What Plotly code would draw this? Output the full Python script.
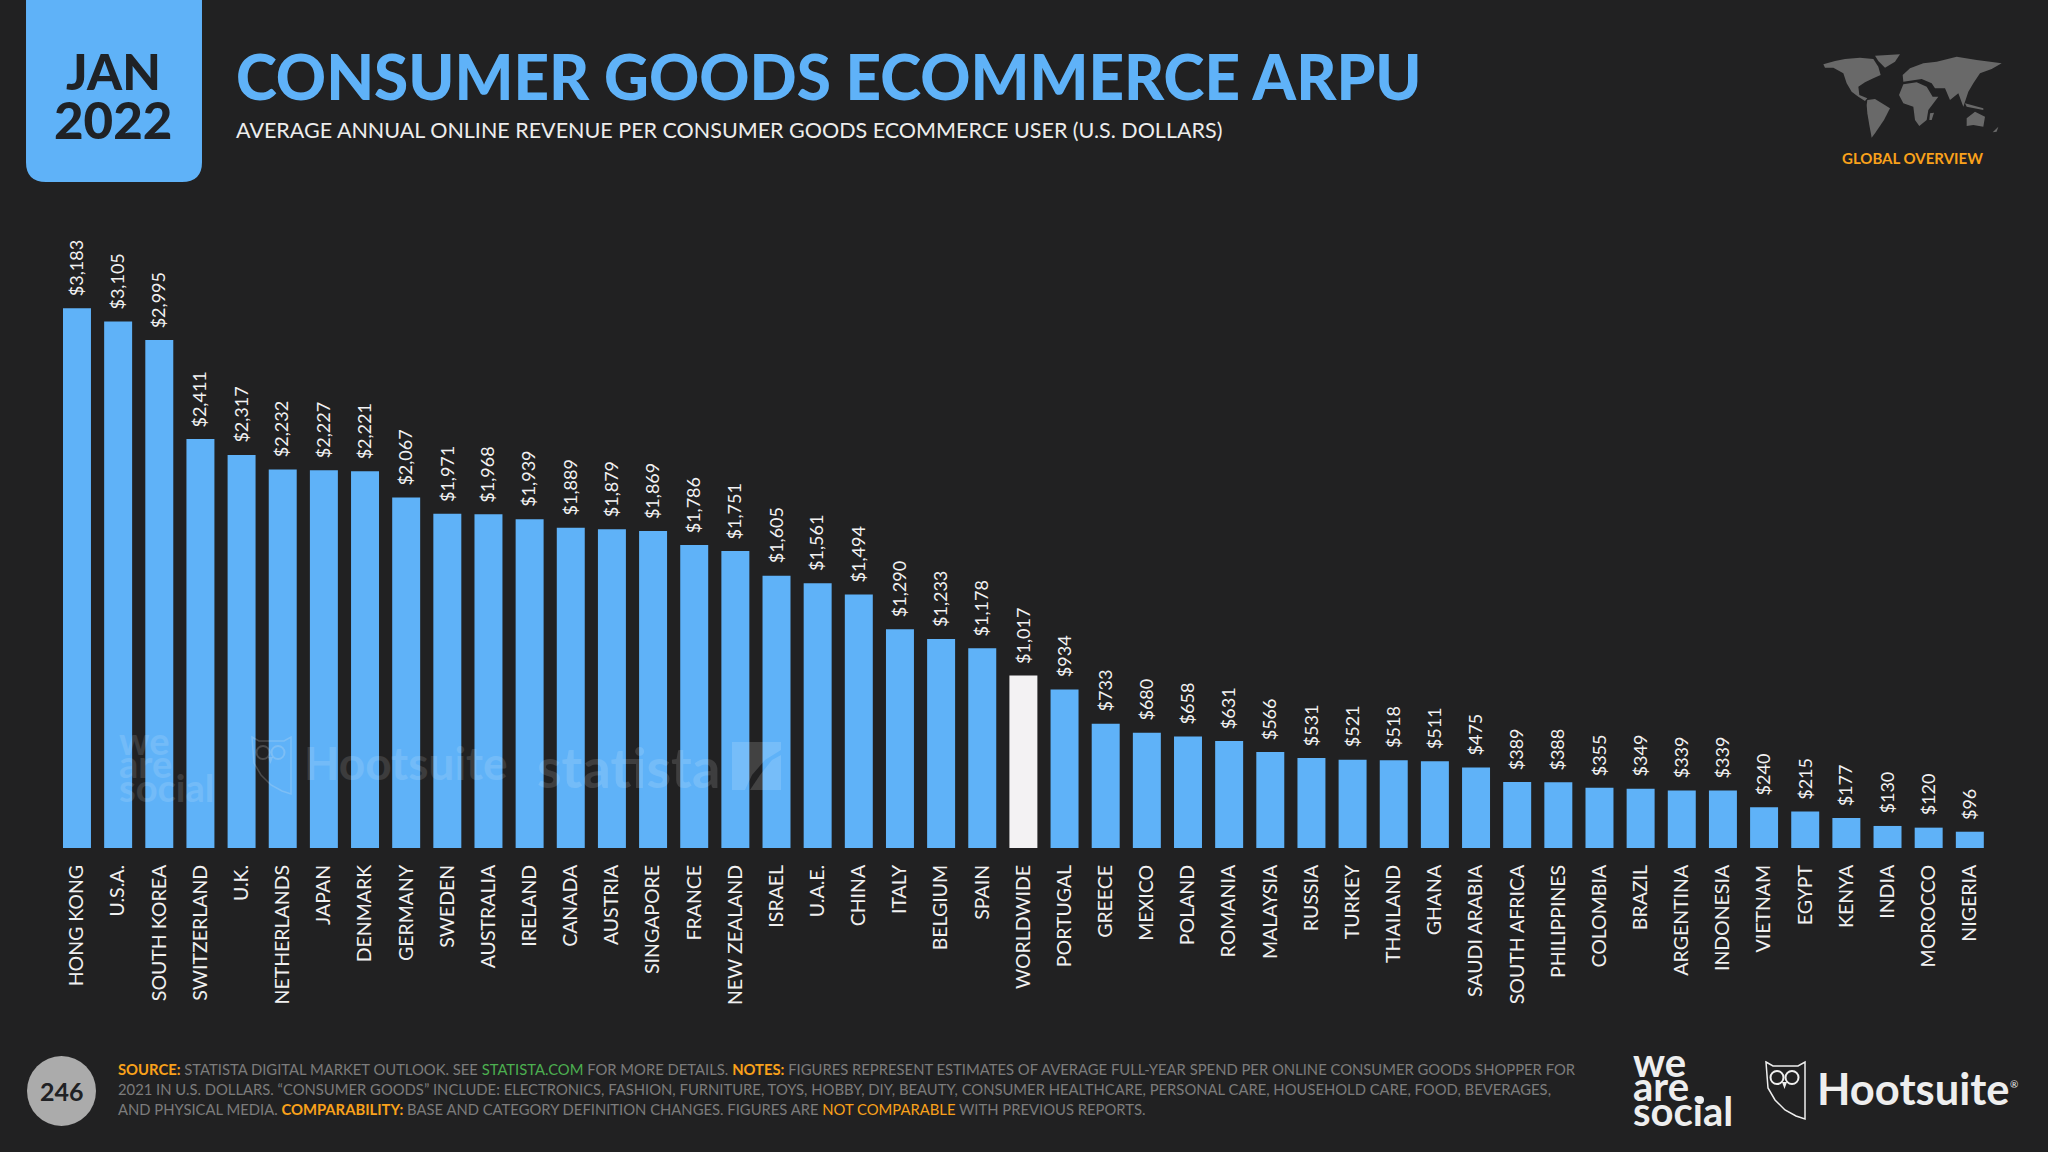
import plotly.graph_objects as go

countries = ["HONG KONG", "U.S.A.", "SOUTH KOREA", "SWITZERLAND", "U.K.", "NETHERLANDS", "JAPAN", "DENMARK",
             "GERMANY", "SWEDEN", "AUSTRALIA", "IRELAND", "CANADA", "AUSTRIA", "SINGAPORE", "FRANCE",
             "NEW ZEALAND", "ISRAEL", "U.A.E.", "CHINA", "ITALY", "BELGIUM", "SPAIN", "WORLDWIDE",
             "PORTUGAL", "GREECE", "MEXICO", "POLAND", "ROMANIA", "MALAYSIA", "RUSSIA", "TURKEY",
             "THAILAND", "GHANA", "SAUDI ARABIA", "SOUTH AFRICA", "PHILIPPINES", "COLOMBIA", "BRAZIL",
             "ARGENTINA", "INDONESIA", "VIETNAM", "EGYPT", "KENYA", "INDIA", "MOROCCO", "NIGERIA"]
arpu = [3183, 3105, 2995, 2411, 2317, 2232, 2227, 2221, 2067, 1971, 1968, 1939, 1889, 1879, 1869, 1786,
        1751, 1605, 1561, 1494, 1290, 1233, 1178, 1017, 934, 733, 680, 658, 631, 566, 531, 521,
        518, 511, 475, 389, 388, 355, 349, 339, 339, 240, 215, 177, 130, 120, 96]

W, H = 2048, 1152
BG = "#212122"
BLUE = "#5FB2F8"
ORANGE = "#F9A11B"
GREY = "#7C7C7C"
GREEN = "#4CAF50"
LOGO = "#EEEEEE"
FONT = "Lato"


def px(x):
    return x / W


def py(y):
    return 1 - y / H


def path(points):
    return "M" + " L".join(f"{px(x):.5f},{py(y):.5f}" for x, y in points) + " Z"


def text(x, y, s, size, color, anchor="left", weight=None, opacity=None):
    return dict(x=px(x), y=py(y), xref="paper", yref="paper", text=s, showarrow=False, xanchor=anchor,
                yanchor="middle", align=anchor, opacity=opacity,
                font=dict(family=FONT, size=size, color=color, weight=weight))


def poly_shape(points, fill, opacity=1):
    return dict(type="path", xref="paper", yref="paper", path=path(points), fillcolor=fill, opacity=opacity, line_width=0)


colors = ["#F3F2F3" if c == "WORLDWIDE" else BLUE for c in countries]

fig = go.Figure(go.Bar(x=countries, y=arpu, width=0.68, marker=dict(color=colors, line_width=0), hoverinfo="skip"))

annotations = []
for c, v in zip(countries, arpu):
    annotations.append(dict(x=c, y=v, xref="x", yref="y", text=f"${v:,}", textangle=-90, showarrow=False,
                            xshift=-1, yanchor="bottom", yshift=10, font=dict(family=FONT, size=18, color="#F2F2F2")))

# header
annotations += [
    text(113, 71, "JAN", 50, "#1F2226", "center", weight=900),
    text(113, 120, "2022", 51, "#1F2226", "center", weight=900),
    text(234, 76, "CONSUMER GOODS ECOMMERCE ARPU", 62, BLUE, weight=900),
    text(234, 130, "AVERAGE ANNUAL ONLINE REVENUE PER CONSUMER GOODS ECOMMERCE USER (U.S. DOLLARS)", 21.5, "#EDEDED"),
    text(1912, 158, "GLOBAL OVERVIEW", 15, ORANGE, "center", weight=700),
]

# watermarks sitting on the bars
annotations += [
    text(117, 740, "we", 38, "#FFFFFF", weight=700, opacity=0.12),
    text(117, 763, "are", 38, "#FFFFFF", weight=700, opacity=0.12),
    text(117, 787, "social", 38, "#FFFFFF", weight=700, opacity=0.12),
    text(302, 762, "Hootsuite", 46, "#FFFFFF", weight=700, opacity=0.12),
    text(535, 766, "statista", 56, "#FFFFFF", weight=700, opacity=0.13),
]

# footer
src = f'<span style="color:{ORANGE}"><b>SOURCE:</b></span>'
notes = f'<span style="color:{ORANGE}"><b>NOTES:</b></span>'
comp = f'<span style="color:{ORANGE}"><b>COMPARABILITY:</b></span>'
link = f'<span style="color:{GREEN}">STATISTA.COM</span>'
nc = f'<span style="color:{ORANGE}">NOT COMPARABLE</span>'
annotations += [
    text(116, 1069, f"{src} STATISTA DIGITAL MARKET OUTLOOK. SEE {link} FOR MORE DETAILS. {notes} FIGURES REPRESENT "
         "ESTIMATES OF AVERAGE FULL-YEAR SPEND PER ONLINE CONSUMER GOODS SHOPPER FOR", 14.8, GREY),
    text(116, 1089, "2021 IN U.S. DOLLARS. “CONSUMER GOODS” INCLUDE: ELECTRONICS, FASHION, FURNITURE, TOYS, HOBBY, DIY, "
         "BEAUTY, CONSUMER HEALTHCARE, PERSONAL CARE, HOUSEHOLD CARE, FOOD, BEVERAGES,", 14.8, GREY),
    text(116, 1109, f"AND PHYSICAL MEDIA. {comp} BASE AND CATEGORY DEFINITION CHANGES. FIGURES ARE {nc} WITH PREVIOUS "
         "REPORTS.", 14.8, GREY),
    text(61.5, 1091, "246", 25, "#202124", "center", weight=700),
    text(1631, 1062, "we", 40, LOGO, weight=700),
    text(1631, 1086, "are", 40, LOGO, weight=700),
    text(1631, 1111, "social", 40, LOGO, weight=700),
    text(1815, 1088, "Hootsuite", 43.5, LOGO, weight=700),
    text(2008, 1084, "®", 10, LOGO),
]

# date tab, rounded at the bottom only
tab = (f"M{px(26):.5f},{py(0):.5f} L{px(202):.5f},{py(0):.5f} L{px(202):.5f},{py(162):.5f} "
       f"Q{px(202):.5f},{py(182):.5f} {px(182):.5f},{py(182):.5f} L{px(46):.5f},{py(182):.5f} "
       f"Q{px(26):.5f},{py(182):.5f} {px(26):.5f},{py(162):.5f} Z")
shapes = [dict(type="path", xref="paper", yref="paper", path=tab, fillcolor=BLUE, line_width=0, layer="below"),
          dict(type="circle", xref="paper", yref="paper", x0=px(27), x1=px(96), y0=py(1126), y1=py(1056),
               fillcolor="#ABABAB", line_width=0)]

# rough world map in the corner, traced by eye from a 3x crop
world = [
    [(40, 58), (75, 48), (105, 42), (150, 38), (190, 42), (205, 65), (212, 90), (190, 100), (165, 112), (145, 125),
     (148, 150), (172, 160), (165, 168), (145, 155), (125, 140), (110, 115), (100, 85), (70, 68), (45, 68)],
    [(195, 32), (270, 28), (255, 50), (225, 68), (205, 48)],
    [(172, 165), (195, 162), (240, 190), (222, 225), (195, 265), (185, 278), (178, 240), (172, 205), (170, 180)],
    [(280, 118), (320, 112), (350, 125), (368, 155), (385, 155), (355, 195), (350, 225), (328, 243), (315, 225),
     (310, 185), (280, 175), (267, 150)],
    [(278, 90), (300, 70), (340, 55), (380, 50), (440, 35), (500, 45), (575, 55), (545, 72), (510, 85), (490, 115),
     (475, 140), (460, 185), (445, 145), (420, 165), (405, 130), (375, 130), (365, 115), (335, 102), (280, 110)],
    [(470, 220), (495, 200), (525, 215), (520, 245), (490, 240), (470, 243)],
    [(360, 205), (372, 203), (365, 225), (358, 225)],
    [(465, 175), (520, 190), (520, 195), (470, 185)],
    [(548, 262), (565, 245), (560, 260)],
]
for poly in world:
    shapes.append(poly_shape([(1810 + x / 3, 45 + y / 3) for x, y in poly], "#696969"))

# owl logo, footer version and the faint copy over the bars
owl = [(1766, 1062), (1773, 1066), (1798, 1066), (1805, 1062), (1805, 1119), (1796, 1116), (1785, 1110), (1775, 1100),
       (1768, 1088)]
for dx, dy, op in [(0, 0, 1), (-1514, -325, 0.2)]:
    shapes.append(dict(type="path", xref="paper", yref="paper", opacity=op,
                       path=path([(x + dx, y + dy) for x, y in owl]), line=dict(color=LOGO, width=1.5)))
    for cx in (1777, 1792):
        shapes.append(dict(type="circle", xref="paper", yref="paper", opacity=op,
                           x0=px(cx + dx - 6.5), x1=px(cx + dx + 6.5), y0=py(1084 + dy), y1=py(1071 + dy),
                           line=dict(color=LOGO, width=2)))
    shapes.append(poly_shape([(1782 + dx, 1082 + dy), (1787 + dx, 1082 + dy), (1784.5 + dx, 1089 + dy)], LOGO, op))

# full stop of "are." in the we are social logo
shapes.append(dict(type="circle", xref="paper", yref="paper", x0=px(1696), x1=px(1704), y0=py(1104), y1=py(1096),
                   fillcolor=LOGO, line_width=0))

# statista mark over the bars
shapes.append(poly_shape([(732, 742), (781, 742), (781, 750), (765, 760), (752, 775), (745, 790), (732, 790)], "#FFFFFF", 0.15))
shapes.append(poly_shape([(772, 760), (781, 755), (781, 790), (750, 790), (760, 775)], "#FFFFFF", 0.15))

fig.update_layout(
    width=W, height=H, margin=dict(l=0, r=0, t=0, b=0), autosize=False,
    paper_bgcolor=BG, plot_bgcolor=BG, showlegend=False,
    annotations=annotations, shapes=shapes,
    xaxis=dict(domain=[0, 1], range=[-1.871, 47.9], type="category", categoryorder="array", categoryarray=countries,
               tickangle=-90, showgrid=False, zeroline=False, showline=False, ticks="",
               ticklabelstandoff=12, tickfont=dict(family=FONT, size=19.5, color="#F0F0F0"), automargin=False),
    yaxis=dict(domain=[(H - 848) / H, 1], range=[0, 5000], visible=False, automargin=False),
)

# the page's default body margin would push the chart off by 8px
fig.write_html("out.html", config={"displayModeBar": False},
               post_script=f"document.body.style.margin='0';document.body.style.background='{BG}';"
                           "document.documentElement.style.overflow='hidden';")
